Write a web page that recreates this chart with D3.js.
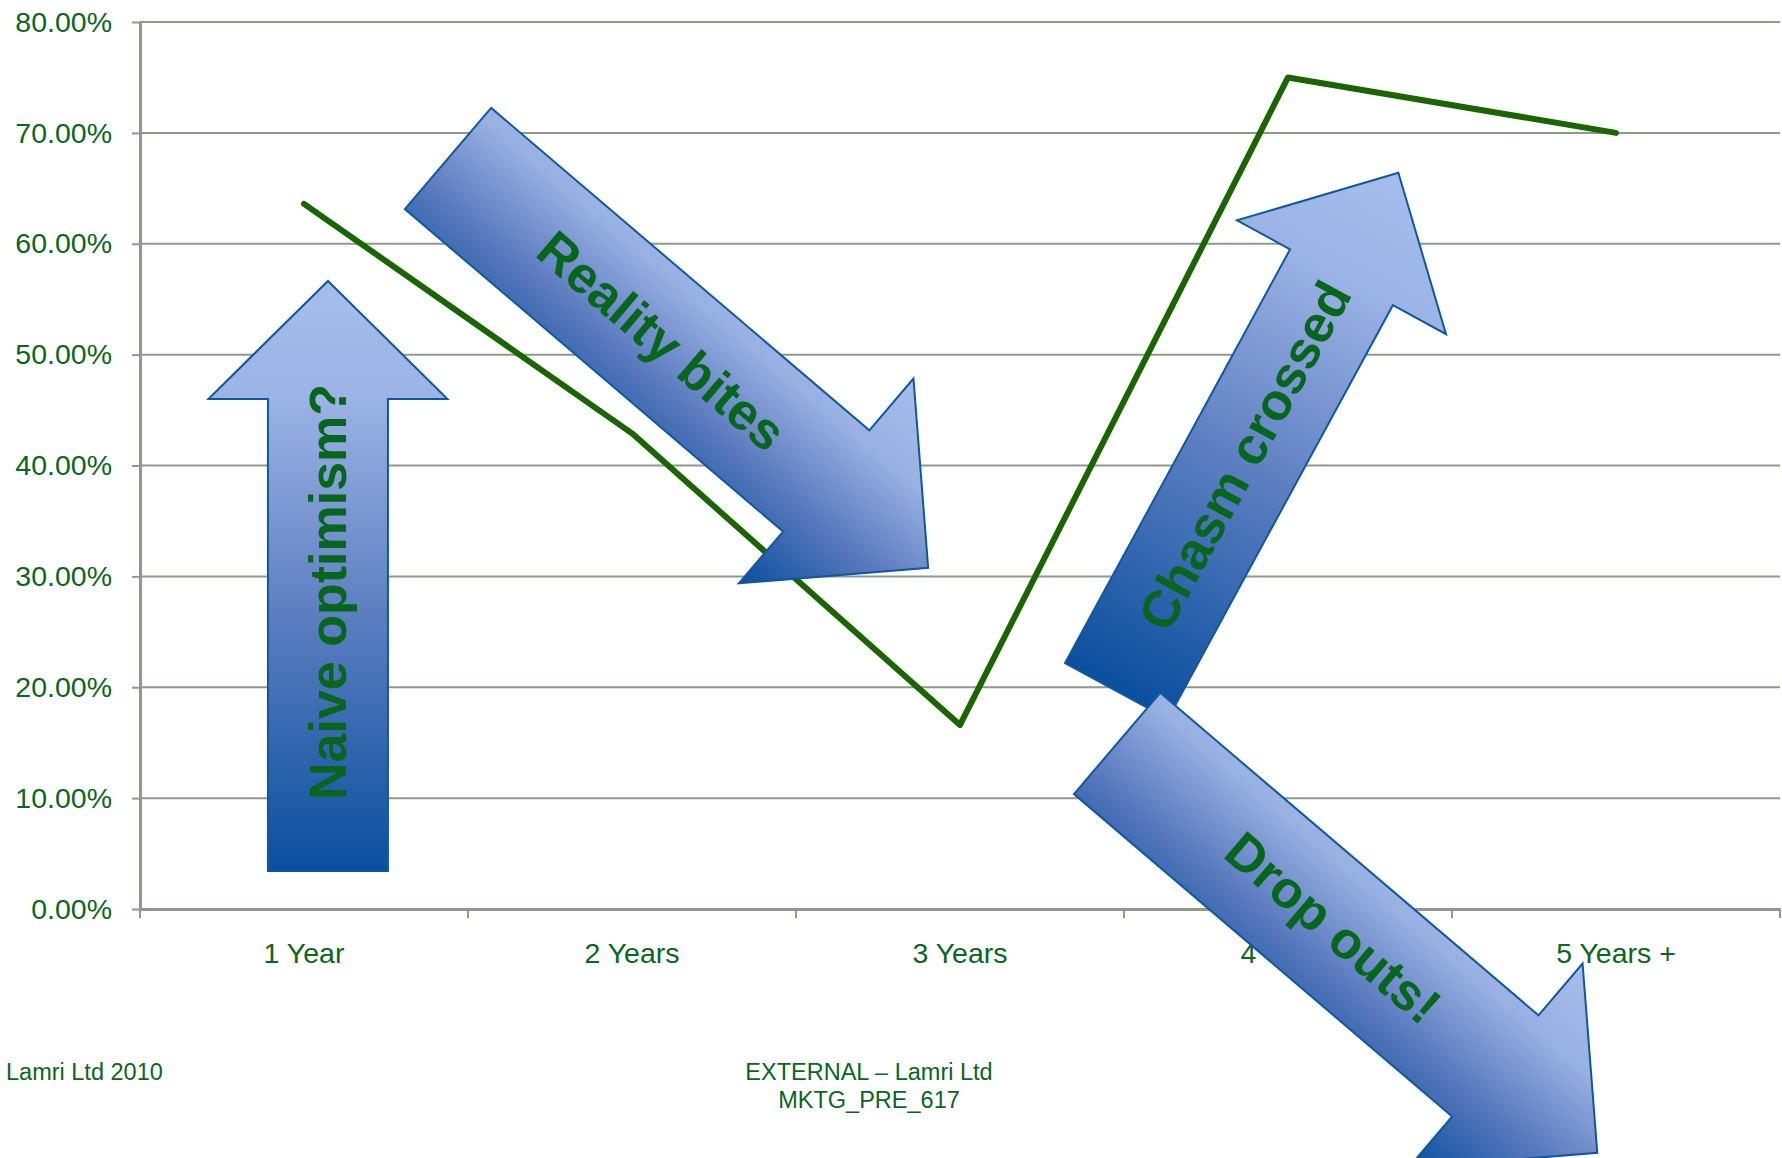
<!DOCTYPE html>
<html lang="en">
<head>
<meta charset="UTF-8">
<title>Years of use - chasm chart</title>
<style>
  body { margin: 0; background: #fff; }
  svg { display: block; font-family: "Liberation Sans", Arial, sans-serif; }
</style>
</head>
<body>
<div id="chart"></div>
<script src="https://cdn.jsdelivr.net/npm/d3@7"></script>
<script>
// data (percent)
const categories = ["1 Year", "2 Years", "3 Years", "4 Years", "5 Years +"];
const values = [63.6, 42.9, 16.6, 75.0, 70.0];
const yTicks = [0, 10, 20, 30, 40, 50, 60, 70, 80];

// arrow captions, and where each arrow starts (category index, percent)
const arrowLabels = ["Naive optimism?", "Reality bites", "Chasm crossed", "Drop outs!"];
const arrowTailX = [0.073, 0.439, 2.477, 2.479];
const arrowTailY = [3.43, 67.69, 19.66, 14.93];

const footLeft = "Lamri Ltd 2010";
const footCenter = ["EXTERNAL \u2013 Lamri Ltd", "MKTG_PRE_617"];

// layout
const width = 1782, height = 1158;
const margin = {top: 22, right: 2, bottom: 249, left: 140};
const green = "#0b6620";
const gridCol = "#8b9b87";

// arrow shapes (px): shaft length, head length, shaft width, head width
const arrowShape = [
  {angle: -90,    shaft: 472, head: 118, sw: 120, hw: 239, textAt: 279, grad: "along"},
  {angle: 40.45,  shaft: 497, head: 134, sw: 133, hw: 269, textAt: 281, grad: "across"},
  {angle: -61.46, shaft: 471, head: 119, sw: 117, hw: 238, textAt: 268, grad: "along"},
  {angle: 40.45,  shaft: 497, head: 134, sw: 133, hw: 269, textAt: 284, grad: "across"}
];

const svg = d3.select("#chart").append("svg")
  .attr("width", width)
  .attr("height", height);

const x = d3.scaleBand()
  .domain(categories)
  .range([margin.left, width - margin.right]);

// same axis as x, but continuous (category index) for the annotations
const xi = d3.scaleLinear()
  .domain([-0.5, categories.length - 0.5])
  .range([margin.left, width - margin.right]);

const y = d3.scaleLinear()
  .domain([0, 80])
  .range([height - margin.bottom, margin.top]);

// gridlines
svg.append("g")
  .selectAll("line")
  .data(yTicks.slice(1))
  .join("line")
  .attr("x1", margin.left)
  .attr("x2", width - margin.right)
  .attr("y1", d => y(d))
  .attr("y2", d => y(d))
  .attr("stroke", gridCol)
  .attr("stroke-width", 2);

// y axis
const yAxis = svg.append("g")
  .attr("transform", "translate(" + margin.left + ",0)")
  .call(d3.axisLeft(y)
    .tickValues(yTicks)
    .tickSize(8)
    .tickSizeOuter(0)
    .tickPadding(20)
    .tickFormat(d => d.toFixed(2) + "%"));
yAxis.select(".domain").attr("stroke", gridCol).attr("stroke-width", 3);
yAxis.selectAll(".tick line").attr("stroke", gridCol).attr("stroke-width", 2);
yAxis.selectAll(".tick text")
  .attr("fill", green)
  .style("font-size", "28.5px")
  .style("font-family", "'Liberation Sans', Arial, sans-serif");

// x axis (labels centred, ticks on the band edges)
const xAxis = svg.append("g")
  .attr("transform", "translate(0," + y(0) + ")")
  .call(d3.axisBottom(x).tickSize(0).tickPadding(34));
xAxis.select(".domain").attr("stroke", gridCol).attr("stroke-width", 3);
xAxis.selectAll(".tick text")
  .attr("fill", green)
  .style("font-size", "28.5px")
  .style("font-family", "'Liberation Sans', Arial, sans-serif");

const edges = categories.map(c => x(c)).concat([x.range()[1]]);
xAxis.append("g")
  .selectAll("line")
  .data(edges)
  .join("line")
  .attr("x1", d => d)
  .attr("x2", d => d)
  .attr("y1", 0)
  .attr("y2", 9)
  .attr("stroke", gridCol)
  .attr("stroke-width", 2);

// the series line
const line = d3.line()
  .x((d, i) => x(categories[i]) + x.bandwidth() / 2)
  .y(d => y(d));

svg.append("path")
  .datum(values)
  .attr("d", line)
  .attr("fill", "none")
  .attr("stroke", "#1a6402")
  .attr("stroke-width", 6)
  .attr("stroke-linecap", "round")
  .attr("stroke-linejoin", "round");

// gradients for the arrows
const defs = svg.append("defs");
arrowShape.forEach((s, i) => {
  const g = defs.append("linearGradient")
    .attr("id", "grad" + i)
    .attr("gradientUnits", "userSpaceOnUse");
  let stops;
  if (s.grad === "along") {
    g.attr("x1", 0).attr("y1", 0).attr("x2", s.shaft + s.head).attr("y2", 0);
    stops = [[0, "#0a4f9e"], [0.45, "#5f80c2"], [0.8, "#9bb3e5"], [1, "#a6bdec"]];
  } else {
    g.attr("x1", 0).attr("y1", -s.hw / 2).attr("x2", 0).attr("y2", s.hw / 2);
    stops = [[0, "#a6bdec"], [0.3, "#98b0e2"], [0.65, "#5677bc"], [1, "#0a4f9e"]];
  }
  g.selectAll("stop")
    .data(stops)
    .join("stop")
    .attr("offset", d => d[0])
    .attr("stop-color", d => d[1]);
});

function arrowPath(s) {
  const pts = [
    [0, -s.sw / 2], [s.shaft, -s.sw / 2], [s.shaft, -s.hw / 2],
    [s.shaft + s.head, 0],
    [s.shaft, s.hw / 2], [s.shaft, s.sw / 2], [0, s.sw / 2]
  ];
  return d3.line()(pts) + "Z";
}

const arrows = svg.append("g")
  .selectAll("g")
  .data(arrowLabels)
  .join("g")
  .attr("transform", (d, i) => "translate(" + xi(arrowTailX[i]) + "," + y(arrowTailY[i]) +
    ") rotate(" + arrowShape[i].angle + ")");

arrows.append("path")
  .attr("d", (d, i) => arrowPath(arrowShape[i]))
  .attr("fill", (d, i) => "url(#grad" + i + ")")
  .attr("stroke", "#10589e")
  .attr("stroke-width", 2)
  .attr("stroke-linejoin", "miter");

arrows.append("text")
  .attr("x", (d, i) => arrowShape[i].textAt)
  .attr("y", 0)
  .attr("dy", "0.35em")
  .attr("text-anchor", "middle")
  .attr("fill", "#07661c")
  .style("font-size", "52px")
  .style("font-weight", "bold")
  .text(d => d);

// footer
svg.append("text")
  .attr("x", 6)
  .attr("y", 1080)
  .attr("fill", green)
  .style("font-size", "23.5px")
  .text(footLeft);

svg.append("g")
  .selectAll("text")
  .data(footCenter)
  .join("text")
  .attr("x", 869)
  .attr("y", (d, i) => 1080 + i * 28)
  .attr("text-anchor", "middle")
  .attr("fill", green)
  .style("font-size", "23.5px")
  .text(d => d);
</script>
</body>
</html>
